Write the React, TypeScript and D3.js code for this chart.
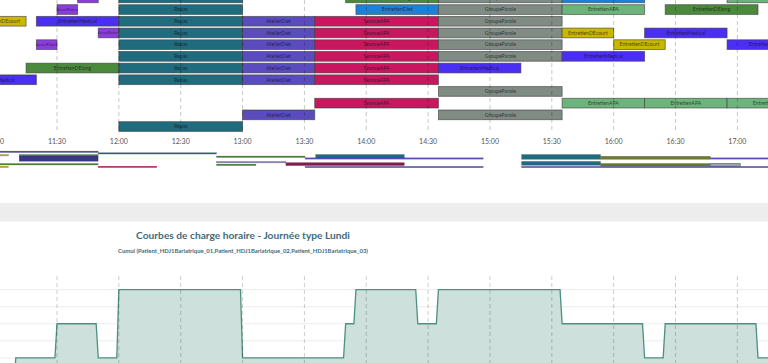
import React from 'react';
import * as d3 from 'd3';

const W = 768;
const H = 363;

// ---------- data ----------
const activityColors: Record<string, string> = {
  Repas: '#1e6c7e',
  AtelierDiet: '#5a4cbe',
  SeanceAPA: '#c8175f',
  GroupeParole: '#7f8b83',
  EntretienDiet: '#1f80d8',
  EntretienMedical: '#4a2ff2',
  EntretienDEcourt: '#c9b800',
  EntretienDElong: '#4b8a3c',
  EntretienAPA: '#6db37c',
  AccueilPatient: '#8a3ddb',
};

const ganttRows = d3.range(0, 12);

// [row, activity, start, end]
const ganttTasks: [number, string, string, string][] = [
  [0, 'AccueilPatient', '11:40', '11:50'],
  [0, 'Repas', '12:00', '13:00'],
  [0, 'EntretienDElong', '13:50', '14:35'],
  [0, 'GroupeParole', '14:35', '15:35'],
  [0, 'EntretienDiet', '15:35', '16:15'],
  [0, 'EntretienAPA', '16:55', '17:35'],

  [1, 'AccueilPatient', '11:30', '11:40'],
  [1, 'Repas', '12:00', '13:00'],
  [1, 'EntretienDiet', '13:55', '14:35'],
  [1, 'GroupeParole', '14:35', '15:35'],
  [1, 'EntretienAPA', '15:35', '16:15'],
  [1, 'EntretienDElong', '16:25', '17:10'],

  [2, 'EntretienDEcourt', '10:50', '11:15'],
  [2, 'EntretienMedical', '11:20', '12:00'],
  [2, 'Repas', '12:00', '13:00'],
  [2, 'AtelierDiet', '13:00', '13:35'],
  [2, 'SeanceAPA', '13:35', '14:35'],
  [2, 'GroupeParole', '14:35', '15:35'],

  [3, 'AccueilPatient', '11:50', '12:00'],
  [3, 'Repas', '12:00', '13:00'],
  [3, 'AtelierDiet', '13:00', '13:35'],
  [3, 'SeanceAPA', '13:35', '14:35'],
  [3, 'GroupeParole', '14:35', '15:35'],
  [3, 'EntretienDEcourt', '15:35', '16:00'],
  [3, 'EntretienMedical', '16:15', '16:55'],

  [4, 'AccueilPatient', '11:20', '11:30'],
  [4, 'Repas', '12:00', '13:00'],
  [4, 'AtelierDiet', '13:00', '13:35'],
  [4, 'SeanceAPA', '13:35', '14:35'],
  [4, 'GroupeParole', '14:35', '15:35'],
  [4, 'EntretienDEcourt', '16:00', '16:25'],
  [4, 'EntretienMedical', '16:55', '17:35'],

  [5, 'Repas', '12:00', '13:00'],
  [5, 'AtelierDiet', '13:00', '13:35'],
  [5, 'SeanceAPA', '13:35', '14:35'],
  [5, 'GroupeParole', '14:35', '15:35'],
  [5, 'EntretienMedical', '15:35', '16:15'],

  [6, 'EntretienDElong', '11:15', '12:00'],
  [6, 'Repas', '12:00', '13:00'],
  [6, 'AtelierDiet', '13:00', '13:35'],
  [6, 'SeanceAPA', '13:35', '14:35'],
  [6, 'EntretienMedical', '14:35', '15:15'],

  [7, 'EntretienMedical', '10:40', '11:20'],
  [7, 'Repas', '12:00', '13:00'],
  [7, 'AtelierDiet', '13:00', '13:35'],
  [7, 'SeanceAPA', '13:35', '14:35'],

  [8, 'GroupeParole', '14:35', '15:35'],

  [9, 'SeanceAPA', '13:35', '14:35'],
  [9, 'EntretienAPA', '15:35', '16:15'],
  [9, 'EntretienAPA', '16:15', '16:55'],
  [9, 'EntretienAPA', '16:55', '17:35'],

  [10, 'AtelierDiet', '13:00', '13:35'],
  [10, 'GroupeParole', '14:35', '15:35'],

  [11, 'Repas', '12:00', '13:00'],
];

const tickLabels = ['11:00', '11:30', '12:00', '12:30', '13:00', '13:30', '14:00', '14:30', '15:00', '15:30', '16:00', '16:30', '17:00'];

// overview strip: [start, end, firstLane, laneCount, colour]
const overviewItems: [string, string, number, number, string][] = [
  ['08:00', '09:32', 0.7, 1, '#5a4cbe'],
  ['09:32', '11:23', 1.8, 0.9, '#1e6c7e'],
  ['08:00', '08:08', 3, 1, '#c9b800'],
  ['08:18', '09:32', 3, 1, '#4b8a3c'],
  ['08:18', '09:32', 4, 3.5, '#3d3580'],
  ['11:23', '12:46', 4, 1, '#4b8a3c'],
  ['11:23', '12:28', 7.6, 1, '#8f88c8'],
  ['08:00', '09:32', 9, 1, '#4b8a3c'],
  ['11:23', '12:00', 9.4, 1, '#4b8a3c'],
  ['09:32', '10:27', 10.8, 0.9, '#c8175f'],
  ['08:00', '08:08', 10.8, 0.9, '#c9b800'],
  ['12:56', '14:19', 3, 2.4, '#1e6c7e'],
  ['12:46', '15:33', 5.2, 0.9, '#5a4cbe'],
  ['12:28', '14:19', 8.4, 2, '#8a1a4e'],
  ['12:46', '15:33', 10.9, 0.9, '#5a4cbe'],
  ['16:09', '17:23', 3, 3.2, '#1e6c7e'],
  ['17:23', '19:06', 4.2, 2, '#6f7a2a'],
  ['19:06', '20:00', 5.2, 0.9, '#5a4cbe'],
  ['16:09', '17:23', 7.6, 2.6, '#1e6c7e'],
  ['17:23', '19:34', 9, 1.8, '#5d7d2e'],
  ['19:06', '19:34', 9.2, 1.6, '#9aa49c'],
  ['16:09', '20:00', 10.9, 0.9, '#5a4cbe'],
];

// cumulative hourly load: [time, value]
const loadPoints: [string, number][] = [
  ['11:00', 0], ['11:09', 0], ['11:10', 1], ['11:29', 1], ['11:30', 2], ['11:49', 2],
  ['11:50', 1], ['11:59', 1], ['12:00', 3], ['12:59', 3], ['13:00', 1], ['13:49', 1],
  ['13:50', 2], ['13:54', 2], ['13:55', 3], ['14:24', 3], ['14:25', 2], ['14:34', 2],
  ['14:35', 3], ['15:34', 3], ['15:35', 2], ['16:14', 2], ['16:15', 1], ['16:24', 1],
  ['16:25', 2], ['17:09', 2], ['17:10', 1], ['17:30', 1],
];
const loadGridValues = [1, 1.5, 2, 2.5, 3];

const chartTitle = 'Courbes de charge horaire - Journée type Lundi';
const chartSubtitle = 'Cumul (Patient_HDJ1Bariatrique_01,Patient_HDJ1Bariatrique_02,Patient_HDJ1Bariatrique_03)';

// ---------- helpers ----------
const toMin = (s: string) => {
  const [h, m] = s.split(':').map(Number);
  return h * 60 + m;
};

const FONT = 'Lato, "Noto Sans", sans-serif';

export default function App() {
  const x = d3.scaleLinear().domain([toMin('11:00'), toMin('17:15')]).range([-4.85, 768.3]);
  const y = d3
    .scaleBand<number>()
    .domain(ganttRows)
    .range([-8, 132.4])
    .paddingInner(0.17)
    .paddingOuter(0.085);

  const xo = d3.scaleLinear().domain([toMin('08:00'), toMin('20:00')]).range([0, 768]);
  const yo = d3.scaleLinear().domain([0, 12]).range([150, 168]);

  const yl = d3.scaleLinear().domain([0, 3.4]).range([392, 276]);
  const area = d3
    .area<[string, number]>()
    .x((d) => x(toMin(d[0])))
    .y0(yl(0))
    .y1((d) => yl(d[1]));
  const line = d3
    .line<[string, number]>()
    .x((d) => x(toMin(d[0])))
    .y((d) => yl(d[1]));

  const ticks = tickLabels.map((t) => ({ label: t, px: x(toMin(t)) }));

  return (
    <svg
      width={W}
      height={H}
      style={{ position: 'absolute', left: 0, top: 0, background: '#fff' }}
      fontFamily={FONT}
    >
      {/* Gantt bars */}
      <g>
        {ganttTasks.map(([row, act, s, e], i) => {
          const x0 = x(toMin(s));
          const x1 = x(toMin(e));
          const y0 = y(row)!;
          const bw = y.bandwidth();
          const small = act === 'AccueilPatient';
          return (
            <g key={i}>
              <rect
                x={x0}
                y={y0}
                width={x1 - x0}
                height={bw}
                fill={activityColors[act]}
                stroke="#3a3a3a"
                strokeOpacity={0.65}
                strokeWidth={0.9}
              />
              <text
                x={(x0 + x1) / 2}
                y={y0 + bw / 2}
                dy="0.35em"
                textAnchor="middle"
                fontSize={small ? 3.4 : 5.2}
                fill="#111"
                fillOpacity={0.72}
              >
                {act}
              </text>
            </g>
          );
        })}
      </g>

      {/* Gantt dashed grid */}
      <g>
        {ticks.map((t) => (
          <line
            key={t.label}
            x1={t.px}
            x2={t.px}
            y1={0}
            y2={132}
            stroke="#000"
            strokeOpacity={0.22}
            strokeDasharray="4,3"
          />
        ))}
      </g>

      {/* Gantt axis labels */}
      <g>
        {ticks.map((t) => (
          <text key={t.label} x={t.px} y={143.5} textAnchor="middle" fontSize={7} fill="#555">
            {t.label}
          </text>
        ))}
      </g>

      {/* overview strip */}
      <g>
        {overviewItems.map(([s, e, lane, n, c], i) => (
          <rect
            key={i}
            x={xo(toMin(s))}
            y={yo(lane)}
            width={xo(toMin(e)) - xo(toMin(s))}
            height={yo(lane + n) - yo(lane)}
            fill={c}
            stroke="#333"
            strokeOpacity={0.5}
            strokeWidth={0.4}
          />
        ))}
      </g>

      {/* separator band */}
      <rect x={0} y={203} width={W} height={18.5} fill="#ededed" />

      {/* titles */}
      <text x={243} y={239} textAnchor="middle" fontSize={10.2} fontWeight="bold" fill="#3e6c7b">
        {chartTitle}
      </text>
      <text x={243} y={252.5} textAnchor="middle" fontSize={5.9} fontWeight="bold" fill="#3e6c7b">
        {chartSubtitle}
      </text>

      {/* load chart grid */}
      <g>
        {loadGridValues.map((v) => (
          <line key={v} x1={0} x2={W} y1={yl(v)} y2={yl(v)} stroke="#ececec" strokeWidth={1} />
        ))}
      </g>

      {/* load area */}
      <path d={area(loadPoints) ?? ''} fill="#cde0db" />
      <path d={line(loadPoints) ?? ''} fill="none" stroke="#4d9082" strokeWidth={1.3} />

      {/* load chart dashed grid */}
      <g>
        {ticks.map((t) => (
          <line
            key={t.label}
            x1={t.px}
            x2={t.px}
            y1={276}
            y2={H}
            stroke="#000"
            strokeOpacity={0.2}
            strokeDasharray="4,3"
          />
        ))}
      </g>
    </svg>
  );
}
